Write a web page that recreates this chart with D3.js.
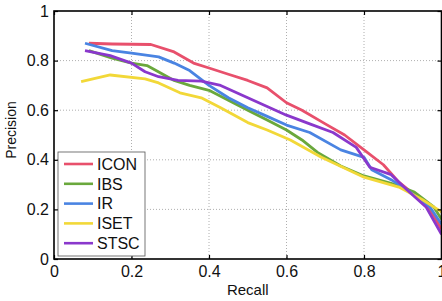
<!DOCTYPE html>
<html>
<head>
<meta charset="utf-8">
<script src="https://cdn.jsdelivr.net/npm/d3@7"></script>
<style>
    body { margin: 0; background: #fff; }
    text { font-family: "Liberation Sans", Arial, sans-serif; fill: #111; }
</style>
</head>
<body>
<div id="chart"></div>
<script>
// Precision-recall curves
var seriesNames = ["ICON", "IBS", "IR", "ISET", "STSC"];
var seriesColors = ["#e8506c", "#6aa83c", "#4a84e2", "#f2d838", "#8a38cc"];

var iconRecall = [0.09, 0.15, 0.25, 0.31, 0.36, 0.40, 0.45, 0.50, 0.55, 0.60, 0.64, 0.70, 0.75, 0.80, 0.85, 0.89, 0.93, 0.97, 1.0];
var iconPrecision = [0.87, 0.867, 0.865, 0.835, 0.79, 0.77, 0.745, 0.72, 0.69, 0.63, 0.60, 0.545, 0.50, 0.44, 0.38, 0.31, 0.26, 0.20, 0.12];

var ibsRecall = [0.09, 0.15, 0.20, 0.24, 0.31, 0.35, 0.40, 0.45, 0.50, 0.55, 0.60, 0.64, 0.68, 0.74, 0.80, 0.87, 0.93, 0.98, 1.0];
var ibsPrecision = [0.84, 0.81, 0.79, 0.78, 0.72, 0.70, 0.68, 0.64, 0.60, 0.56, 0.52, 0.48, 0.43, 0.375, 0.335, 0.305, 0.27, 0.21, 0.16];

var irRecall = [0.08, 0.15, 0.20, 0.27, 0.31, 0.35, 0.40, 0.45, 0.50, 0.55, 0.60, 0.66, 0.74, 0.80, 0.82, 0.87, 0.91, 0.97, 1.0];
var irPrecision = [0.87, 0.84, 0.83, 0.815, 0.79, 0.76, 0.70, 0.65, 0.61, 0.575, 0.54, 0.51, 0.44, 0.41, 0.36, 0.32, 0.28, 0.21, 0.14];

var isetRecall = [0.07, 0.145, 0.235, 0.27, 0.325, 0.38, 0.43, 0.50, 0.55, 0.61, 0.69, 0.80, 0.89, 0.95, 0.99, 1.0];
var isetPrecision = [0.715, 0.742, 0.726, 0.71, 0.67, 0.65, 0.61, 0.55, 0.52, 0.48, 0.41, 0.33, 0.29, 0.24, 0.20, 0.19];

var stscRecall = [0.08, 0.145, 0.20, 0.235, 0.27, 0.32, 0.38, 0.43, 0.50, 0.55, 0.60, 0.66, 0.72, 0.78, 0.815, 0.87, 0.91, 0.96, 1.0];
var stscPrecision = [0.84, 0.82, 0.79, 0.755, 0.735, 0.72, 0.717, 0.70, 0.65, 0.615, 0.58, 0.545, 0.51, 0.45, 0.37, 0.34, 0.28, 0.21, 0.10];

var tickValues = [0, 0.2, 0.4, 0.6, 0.8, 1];
var tickLabels = ["0", "0.2", "0.4", "0.6", "0.8", "1"];

var recalls = [iconRecall, ibsRecall, irRecall, isetRecall, stscRecall];
var precisions = [iconPrecision, ibsPrecision, irPrecision, isetPrecision, stscPrecision];

var width = 442,
    height = 301,
    margin = {top: 11, right: 0.5, bottom: 42, left: 54},
    innerW = width - margin.left - margin.right,
    innerH = height - margin.top - margin.bottom;

var x = d3.scaleLinear().domain([0, 1]).range([0, innerW]);
var y = d3.scaleLinear().domain([0, 1]).range([innerH, 0]);

var svg = d3.select("#chart").append("svg")
    .attr("width", width)
    .attr("height", height)
    .append("g")
    .attr("transform", "translate(" + margin.left + "," + margin.top + ")");

// dotted grid
var inner = tickValues.slice(1, -1);
svg.append("g").selectAll("line.gx")
    .data(inner).enter().append("line")
    .attr("x1", function(d) { return x(d); })
    .attr("x2", function(d) { return x(d); })
    .attr("y1", 0).attr("y2", innerH)
    .attr("stroke", "#9a9a9a").attr("stroke-width", 0.8)
    .attr("stroke-dasharray", "1,2");
svg.append("g").selectAll("line.gy")
    .data(inner).enter().append("line")
    .attr("y1", function(d) { return y(d); })
    .attr("y2", function(d) { return y(d); })
    .attr("x1", 0).attr("x2", innerW)
    .attr("stroke", "#9a9a9a").attr("stroke-width", 0.8)
    .attr("stroke-dasharray", "1,2");

// curves
var line = d3.line()
    .x(function(d) { return x(d[0]); })
    .y(function(d) { return y(d[1]); })
    .curve(d3.curveLinear);

svg.append("g").selectAll("path")
    .data(seriesNames)
    .enter().append("path")
    .attr("fill", "none")
    .attr("stroke", function(d, i) { return seriesColors[i]; })
    .attr("stroke-width", 2.8)
    .attr("stroke-linejoin", "round")
    .attr("d", function(d, i) {
        return line(d3.zip(recalls[i], precisions[i]));
    });

// axes with inward ticks on all sides
function fmt(d) { return tickLabels[tickValues.indexOf(d)]; }

svg.append("g")
    .attr("transform", "translate(0," + innerH + ")")
    .call(d3.axisBottom(x).tickValues(tickValues).tickFormat(fmt).tickSizeInner(-4).tickSizeOuter(0).tickPadding(7));
svg.append("g")
    .call(d3.axisLeft(y).tickValues(tickValues).tickFormat(fmt).tickSizeInner(-4).tickSizeOuter(0).tickPadding(5));
svg.append("g")
    .call(d3.axisTop(x).tickValues(tickValues).tickFormat("").tickSizeInner(-4).tickSizeOuter(0));
svg.append("g")
    .attr("transform", "translate(" + innerW + ",0)")
    .call(d3.axisRight(y).tickValues(tickValues).tickFormat("").tickSizeInner(-4).tickSizeOuter(0));

svg.selectAll(".domain").remove();
svg.selectAll(".tick line").attr("stroke", "#000").attr("stroke-width", 1.2);
svg.selectAll(".tick text").style("font-size", "16px").attr("fill", "#111");

svg.append("rect")
    .attr("width", innerW).attr("height", innerH)
    .attr("fill", "none").attr("stroke", "#000").attr("stroke-width", 1.6);

// axis titles
svg.append("text")
    .attr("x", innerW / 2)
    .attr("y", innerH + 36)
    .attr("text-anchor", "middle")
    .style("font-size", "15px")
    .text("Recall");
svg.append("text")
    .attr("transform", "translate(" + (-38) + "," + (innerH / 2 - 5) + ")rotate(-90)")
    .attr("text-anchor", "middle")
    .style("font-size", "14px")
    .text("Precision");

// legend
var legend = svg.append("g").attr("transform", "translate(4," + (innerH - 107) + ")");
legend.append("rect")
    .attr("width", 87).attr("height", 104)
    .attr("fill", "#fff").attr("stroke", "#555").attr("stroke-width", 0.8);
var item = legend.selectAll("g.item")
    .data(seriesNames)
    .enter().append("g")
    .attr("transform", function(d, i) { return "translate(0," + (12 + i * 19.8) + ")"; });
item.append("line")
    .attr("x1", 6).attr("x2", 35)
    .attr("stroke", function(d, i) { return seriesColors[i]; })
    .attr("stroke-width", 2.6);
item.append("text")
    .attr("x", 39).attr("dy", "0.36em")
    .style("font-size", "16px")
    .text(function(d) { return d; });
</script>
</body>
</html>
